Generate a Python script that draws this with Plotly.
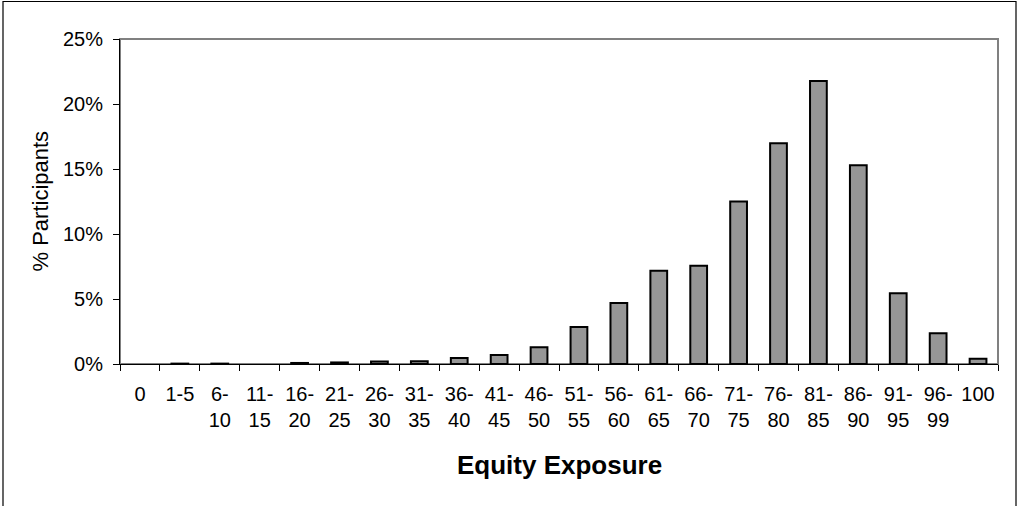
import plotly.graph_objects as go

categories = ["0", "1-5", "6-10", "11-15", "16-20", "21-25", "26-30", "31-35", "36-40",
              "41-45", "46-50", "51-55", "56-60", "61-65", "66-70", "71-75", "76-80",
              "81-85", "86-90", "91-95", "96-99", "100"]
tick_labels = ["0", "1-5", "6-<br>10", "11-<br>15", "16-<br>20", "21-<br>25", "26-<br>30",
               "31-<br>35", "36-<br>40", "41-<br>45", "46-<br>50", "51-<br>55", "56-<br>60",
               "61-<br>65", "66-<br>70", "71-<br>75", "76-<br>80", "81-<br>85", "86-<br>90",
               "91-<br>95", "96-<br>99", "100"]
pct_participants = [0.0, 0.03, 0.03, 0.0, 0.08, 0.12, 0.2, 0.22, 0.46, 0.7, 1.28,
                    2.85, 4.7, 7.18, 7.55, 12.5, 16.98, 21.77, 15.28, 5.44, 2.36, 0.4]
y_ticks = [0, 5, 10, 15, 20, 25]
y_tick_labels = [f"{v}%" for v in y_ticks]

FONT = "Liberation Sans, Arial, sans-serif"
W, H = 1019, 506
L, R, T, B = 120, 998, 39, 364
pw, ph = R - L, B - T

def px_x(x):
    return (x - L) / pw

def px_y(y):
    return (B - y) / ph

outline_widths = [0 if v == 0 else 2 for v in pct_participants]

fig = go.Figure()
fig.add_trace(go.Bar(
    x=categories, y=pct_participants, width=0.42,
    marker=dict(color="#969696", line=dict(color="black", width=outline_widths)),
    showlegend=False, hoverinfo="x+y",
))

fig.update_layout(
    width=W, height=H,
    margin=dict(l=L, r=W - R, t=T, b=H - B),
    paper_bgcolor="white", plot_bgcolor="white",
    font=dict(family=FONT, color="black", size=20),
    xaxis=dict(
        type="category", categoryorder="array", categoryarray=categories,
        range=[-0.5, len(categories) - 0.5],
        tickmode="array", tickvals=categories, ticktext=tick_labels,
        tickson="boundaries", ticks="outside", ticklen=6, tickcolor="black",
        showline=True, linecolor="black", linewidth=1,
        showgrid=False, zeroline=False, tickangle=0,
        tickfont=dict(family=FONT, size=20, color="black"),
        ticklabelstandoff=12,
    ),
    yaxis=dict(
        range=[0, 25], tickmode="array", tickvals=y_ticks, ticktext=y_tick_labels,
        ticks="outside", ticklen=6, tickcolor="black",
        showline=True, linecolor="black", linewidth=1,
        showgrid=False, zeroline=False,
        tickfont=dict(family=FONT, size=20, color="black"),
        ticklabelstandoff=6,
    ),
    shapes=[
        dict(type="rect", xref="paper", yref="paper", x0=0, x1=1, y0=0, y1=1,
             line=dict(color="#808080", width=2), layer="below"),
        dict(type="rect", xref="paper", yref="paper",
             x0=px_x(3), x1=px_x(1016), y0=px_y(515), y1=px_y(1.5),
             line=dict(color="black", width=1.2), layer="above"),
    ],
    annotations=[
        dict(text="<b>Equity Exposure</b>", xref="paper", yref="paper",
             x=0.5, y=px_y(465), xanchor="center", yanchor="middle",
             showarrow=False, font=dict(family=FONT, size=26, color="black")),
        dict(text="% Participants", xref="paper", yref="paper",
             x=px_x(40), y=0.5, xanchor="center", yanchor="middle",
             textangle=-90, showarrow=False,
             font=dict(family=FONT, size=22, color="black")),
    ],
)

fig.write_html("out.html", config={"displayModeBar": False},
               post_script="document.body.style.margin='0';")
